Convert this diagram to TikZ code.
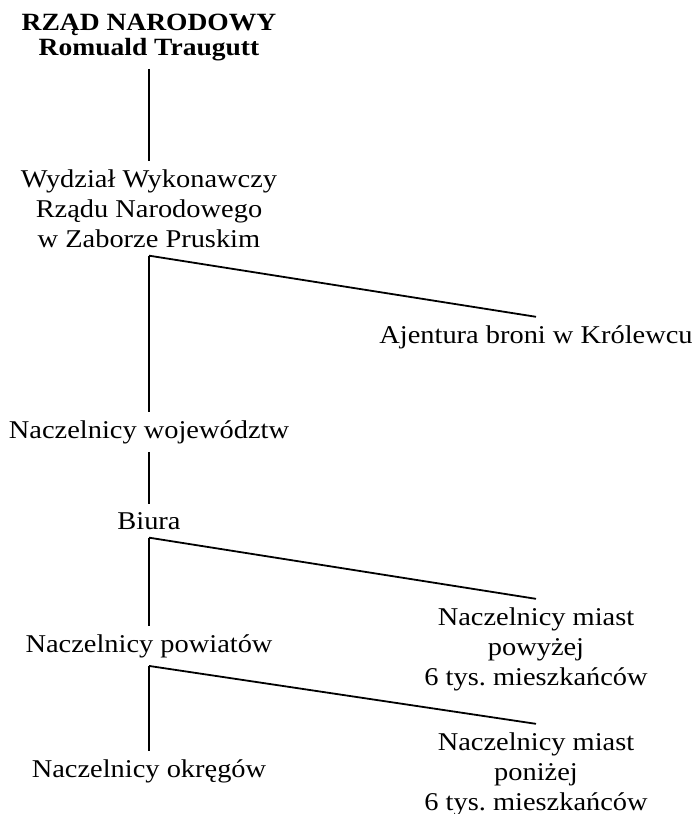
\documentclass[tikz,border=0pt]{standalone}
\usepackage{fontspec}
\setmainfont{Liberation Serif}[FakeStretch=1.11]
\usetikzlibrary{positioning}
\frenchspacing

\begin{document}
\begin{tikzpicture}[
    x=0.5pt, y=-0.5pt,
    unit/.style={align=center, inner xsep=0pt, inner ysep=4pt, anchor=base,
                 font=\fontsize{12.8pt}{15pt}\selectfont},
    head/.style={unit, font=\fontsize{12.4pt}{12.5pt}\selectfont\bfseries},
    link/.style={line width=0.9pt},
]
    \useasboundingbox (0,0) rectangle (699,814);

    % --- Main column, centred on the spine (base = last line) ---
    \node[head] (rzad)   at (149, 55)  {RZĄD NARODOWY\\Romuald Traugutt};
    \node[unit] (wydz)   at (149,247)  {Wydział Wykonawczy\\Rządu Narodowego\\w Zaborze Pruskim};
    \node[unit] (woj)    at (149,438)  {Naczelnicy województw};
    \node[unit] (biura)  at (149,529)  {Biura};
    \node[unit] (pow)    at (149,652)  {Naczelnicy powiatów};
    \node[unit] (okr)    at (149,777)  {Naczelnicy okręgów};

    % --- Side branches ---
    \node[unit] (ajent)  at (536,343)  {Ajentura broni w Królewcu};
    \node[unit] (miastA) at (536,685)  {Naczelnicy miast\\powyżej\\6 tys. mieszkańców};
    \node[unit] (miastB) at (536,810)  {Naczelnicy miast\\poniżej\\6 tys. mieszkańców};

    % --- Spine ---
    \draw[link] (rzad.south)  -- (wydz.north);
    \draw[link] (wydz.south)  -- (woj.north);
    \draw[link] (woj.south)   -- (biura.north);
    \draw[link] (biura.south) -- (pow.north);
    \draw[link] (pow.south)   -- (okr.north);

    % --- Diagonals to the side branches ---
    \draw[link] (wydz.south)  -- (ajent.north);
    \draw[link] (biura.south) -- (miastA.north);
    \draw[link] (pow.south)   -- (miastB.north);
\end{tikzpicture}
\end{document}
